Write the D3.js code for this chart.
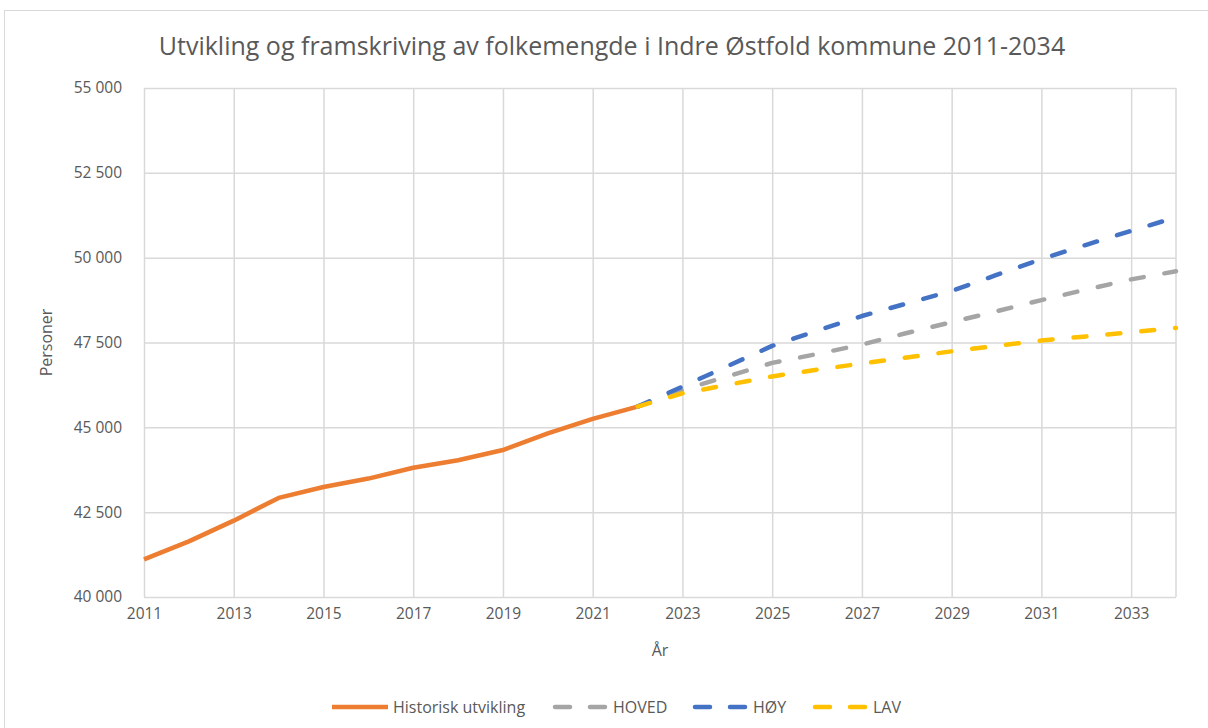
<!DOCTYPE html>
<html>
<head>
<meta charset="utf-8">
<script src="https://cdn.jsdelivr.net/npm/d3@7"></script>
<style>
  body { margin: 0; background: #fff; }
  text { font-family: "Open Sans", "Noto Sans", sans-serif; fill: #595959; }
</style>
</head>
<body>
<script>
// data
const histYears = [2011, 2012, 2013, 2014, 2015, 2016, 2017, 2018, 2019, 2020, 2021, 2022];
const histValues = [41110, 41640, 42250, 42920, 43240, 43490, 43810, 44030, 44330, 44820, 45250, 45610];

const projYears = [2022, 2023, 2024, 2025, 2026, 2027, 2028, 2029, 2030, 2031, 2032, 2033, 2034];
const hoved = [45610, 46100, 46500, 46900, 47160, 47440, 47780, 48100, 48420, 48750, 49060, 49360, 49600];
const hoy   = [45610, 46200, 46800, 47400, 47850, 48280, 48650, 49020, 49490, 49960, 50380, 50790, 51190];
const lav   = [45610, 46000, 46250, 46500, 46700, 46880, 47060, 47240, 47400, 47560, 47680, 47800, 47930];

const xTicks = [2011, 2013, 2015, 2017, 2019, 2021, 2023, 2025, 2027, 2029, 2031, 2033];
const yTicks = [40000, 42500, 45000, 47500, 50000, 52500, 55000];

const series = [
  {name: "Historisk utvikling", years: histYears, values: histValues, color: "#ED7D31", dash: null},
  {name: "HOVED", years: projYears, values: hoved, color: "#A5A5A5", dash: "13,21"},
  {name: "HØY", years: projYears, values: hoy, color: "#4472C4", dash: "13,21"},
  {name: "LAV", years: projYears, values: lav, color: "#FFC000", dash: "13,21"}
];

const W = 1208, H = 728;
const margin = {top: 88, right: 32, bottom: 131, left: 144};

const svg = d3.select("body").append("svg")
  .attr("width", W)
  .attr("height", H);

// chart frame
svg.append("rect")
  .attr("x", 4.5).attr("y", 10.5)
  .attr("width", W + 10).attr("height", H + 10)
  .attr("fill", "none")
  .attr("stroke", "#d9d9d9")
  .attr("stroke-width", 1);

const x = d3.scaleLinear().domain([2011, 2034]).range([margin.left, W - margin.right]);
const y = d3.scaleLinear().domain([40000, 55000]).range([H - margin.bottom, margin.top]);

const loc = d3.formatLocale({decimal: ",", thousands: "\u00a0", grouping: [3], currency: ["", ""]});
const fmt = loc.format(",");

// gridlines
const gx = svg.append("g")
  .attr("transform", `translate(0,${y(40000)})`)
  .call(d3.axisBottom(x).tickValues(xTicks).tickSize(-(y(40000) - y(55000))).tickFormat(d => d).tickPadding(11));
gx.select(".domain").remove();
gx.selectAll("line").attr("stroke", "#d9d9d9").attr("stroke-width", 1.5);
gx.selectAll("text").style("font-size", "15.5px").attr("fill", "#595959");

// right edge gridline at 2034
svg.append("line")
  .attr("x1", x(2034)).attr("x2", x(2034))
  .attr("y1", y(55000)).attr("y2", y(40000))
  .attr("stroke", "#d9d9d9").attr("stroke-width", 1.5);

const gy = svg.append("g")
  .attr("transform", `translate(${x(2011)},0)`)
  .call(d3.axisLeft(y).tickValues(yTicks).tickSize(-(x(2034) - x(2011))).tickFormat(fmt).tickPadding(22));
gy.select(".domain").remove();
gy.selectAll("line").attr("stroke", "#d9d9d9").attr("stroke-width", 1.5);
gy.selectAll("text").style("font-size", "15.5px").attr("fill", "#595959");

// lines
const line = d3.line().x(d => x(d[0])).y(d => y(d[1]));
series.forEach(s => {
  svg.append("path")
    .datum(s.years.map((yr, i) => [yr, s.values[i]]))
    .attr("d", line)
    .attr("fill", "none")
    .attr("stroke", s.color)
    .attr("stroke-width", 4.5)
    .attr("stroke-linecap", s.dash ? "round" : "butt")
    .attr("stroke-linejoin", "round")
    .attr("stroke-dasharray", s.dash);
});

// title and axis titles
svg.append("text")
  .attr("x", 612).attr("y", 55)
  .attr("text-anchor", "middle")
  .style("font-size", "25px")
  .text("Utvikling og framskriving av folkemengde  i Indre Østfold kommune 2011-2034");

svg.append("text")
  .attr("x", 660).attr("y", 656)
  .attr("text-anchor", "middle")
  .style("font-size", "16px")
  .text("År");

svg.append("text")
  .attr("transform", `translate(52,${(y(40000) + y(55000)) / 2}) rotate(-90)`)
  .attr("text-anchor", "middle")
  .style("font-size", "16px")
  .text("Personer");

// legend
const legendX = [332, 553, 693, 813];
const legend = svg.append("g");
series.forEach((s, i) => {
  const lx = legendX[i], ly = 707;
  if (s.dash) {
    legend.append("line")
      .attr("x1", lx + 2).attr("x2", lx + 17).attr("y1", ly).attr("y2", ly)
      .attr("stroke", s.color).attr("stroke-width", 4.5).attr("stroke-linecap", "round");
    legend.append("line")
      .attr("x1", lx + 37).attr("x2", lx + 52).attr("y1", ly).attr("y2", ly)
      .attr("stroke", s.color).attr("stroke-width", 4.5).attr("stroke-linecap", "round");
  } else {
    legend.append("line")
      .attr("x1", lx).attr("x2", lx + 56).attr("y1", ly).attr("y2", ly)
      .attr("stroke", s.color).attr("stroke-width", 4.5);
  }
  legend.append("text")
    .attr("x", lx + (s.dash ? 60 : 61)).attr("y", ly + 6)
    .style("font-size", "16px")
    .text(s.name);
});
</script>
</body>
</html>
